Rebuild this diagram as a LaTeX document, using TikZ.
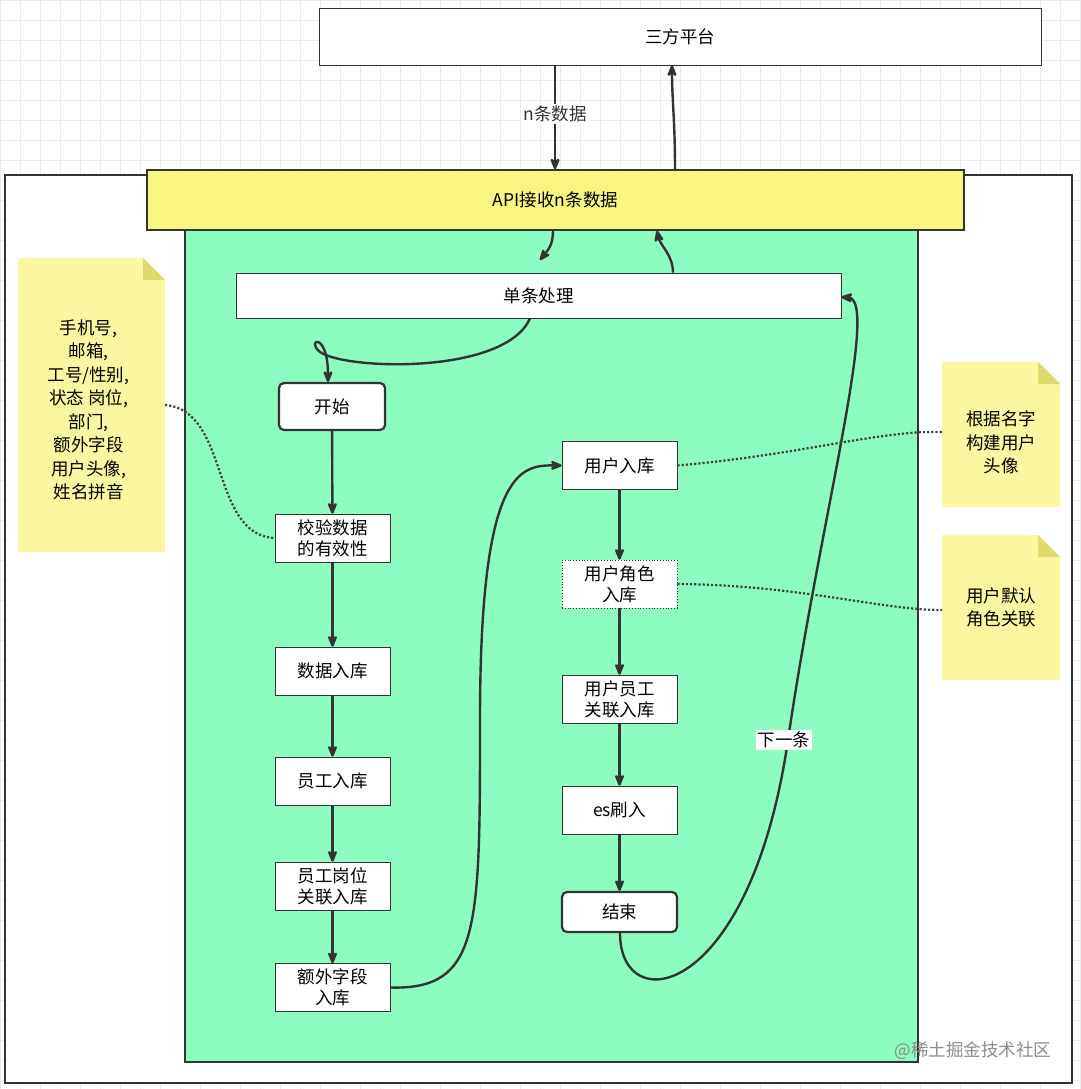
\documentclass[tikz,border=0pt]{standalone}
\usepackage{fontspec}
\setmainfont{Noto Sans CJK SC}
\usetikzlibrary{arrows.meta, positioning}

\definecolor{mintgreen}{RGB}{140,252,192}
\definecolor{apiyellow}{RGB}{248,246,128}
\definecolor{memofill}{RGB}{250,247,160}
\definecolor{memofold}{RGB}{222,218,110}

\tikzset{
	box/.style = {draw=black!80, fill=white, thick, minimum height=48pt, text width=113pt, minimum width=113pt, align=center, font=\fontsize{17.5}{21}\selectfont, inner sep=1pt},
	term/.style = {box, rounded corners=5pt, line width=2.2pt},
	flow/.style = {-{Stealth[round,length=15pt,width=12pt]}, line width=2.4pt, black!80},
	link/.style = {dotted, line width=2.2pt, black!75},
	memo/.style = {font=\fontsize{17.5}{23.5}\selectfont, align=center},
}

\begin{document}
\begin{tikzpicture}[x=1pt, y=-1pt]
	\useasboundingbox (0,0) rectangle (1080,1089);
	\fill[white] (0,0) rectangle (1080,1089);
	\foreach \g in {0,20,...,1080} {
		\draw[black!8, line width=0.6pt] (\g,0) -- (\g,1089);
		\draw[black!8, line width=0.6pt] (0,\g) -- (1080,\g);
	}
	
	% frames
	\draw[black!80, line width=1.5pt, fill=white] (5,175) rectangle (1072,1083);
	\fill[mintgreen] (185,230) rectangle (918,1062);
	\draw[black!80, line width=1.5pt] (185,230) rectangle (918,1062);
	
	\node (third) [box, minimum width=720pt, text width=720pt, minimum height=57pt] at (680,36.5) {三方平台};
	\node (api) [box, fill=apiyellow, minimum width=815pt, text width=815pt, minimum height=60pt, line width=1.5pt] at (555.5,200) {API接收n条数据};
	\node (single) [box, minimum width=603pt, text width=603pt, minimum height=45pt] at (538.5,295.5) {单条处理};
	
	% left column
	\node (start) [term, minimum width=106pt, text width=104pt, minimum height=47pt] at (332,406.5) {开始};
	\node (check) [box] at (332.5,538) {校验数据\\的有效性};
	\node (save) [box] at (332.5,671) {数据入库};
	\node (staff) [box] at (332.5,781) {员工入库};
	\node (post) [box] at (332.5,886) {员工岗位\\关联入库};
	\node (extra) [box] at (332.5,987.5) {额外字段\\入库};
	
	% right column
	\node (user) [box] at (619.5,465.5) {用户入库};
	\node (role) [box, dotted] at (619.5,584) {用户角色\\入库};
	\node (relate) [box] at (619.5,699) {用户员工\\关联入库};
	\node (es) [box] at (619.5,810) {es刷入};
	\node (stop) [term, minimum height=40pt] at (619.5,912) {结束};
	
	% notes
	\foreach \xa/\ya/\xb/\yb/\nm in {18/258/165/552/noteA, 942/362/1060/507/noteB, 942/535/1060/680/noteC} {
		\fill[memofill] (\xa,\ya) -- (\xb-22,\ya) -- (\xb,\ya+22) -- (\xb,\yb) -- (\xa,\yb) -- cycle;
		\fill[memofold] (\xb-22,\ya) -- (\xb,\ya+22) -- (\xb-22,\ya+22) -- cycle;
		\coordinate (\nm) at ({(\xa+\xb)/2},{(\ya+\yb)/2});
	}
	\node (memoA) [memo] at ([xshift=-3,yshift=-5]noteA) {手机号,\\邮箱,\\工号/性别,\\状态 岗位,\\部门,\\额外字段\\用户头像,\\姓名拼音};
	\node (memoB) [memo] at ([yshift=-8]noteB) {根据名字\\构建用户\\头像};
	\node (memoC) [memo] at (noteC) {用户默认\\角色关联};
	\coordinate (lA) at (165,405);
	\coordinate (lB) at (942,432);
	\coordinate (lC) at (942,610);
	
	% connectors
	\draw[flow] (third.south -| 555,0) -- node[fill=white, font=\fontsize{17.5}{21}\selectfont, inner sep=2pt, yshift=3] {n条数据} (api.north -| 555,0);
	\draw[flow] (675,170) .. controls (675,120) and (672,100) .. (third.south -| 672,0);
	\draw[flow] (api.south -| 553,0) .. controls (553,245) and (548,250) .. (540,260);
	\draw[flow] (single.north -| 673,0) .. controls (673,255) and (660,245) .. (api.south -| 657,0);
	\draw[flow] (single.south -| 530,0) .. controls (505,375) and (345,370) .. (320,352) .. controls (305,340) and (328,330) .. (start.north -| 328,0);
	\draw[flow] (start) -- (check);
	\draw[flow] (check) -- (save);
	\draw[flow] (save) -- (staff);
	\draw[flow] (staff) -- (post);
	\draw[flow] (post) -- (extra);
	\draw[flow] (extra.east) .. controls (480,990) and (480,930) .. (480,720) .. controls (480,470) and (520,465) .. (user.west);
	\draw[flow] (user) -- (role);
	\draw[flow] (role) -- (relate);
	\draw[flow] (relate) -- (es);
	\draw[flow] (es) -- (stop);
	\draw[flow] (stop.south -| 620,0) .. controls (620,1020) and (750,1000) .. (788,740) .. controls (820,520) and (880,300) .. (single.east |- 0,297);
	\node (next) [fill=white, font=\fontsize{17.5}{21}\selectfont, inner sep=2pt] at (784,740) {下一条};
	\draw[link] (lA) .. controls (230,410) and (210,535) .. (check.west);
	\draw[link] (user.east) .. controls (800,455) and (880,430) .. (lB);
	\draw[link] (role.east) .. controls (800,585) and (880,610) .. (lC);
	
	\node (mark) [black!45, font=\fontsize{17.5}{21}\selectfont, anchor=east] at (1055,1051) {@稀土掘金技术社区};
\end{tikzpicture}
\end{document}
